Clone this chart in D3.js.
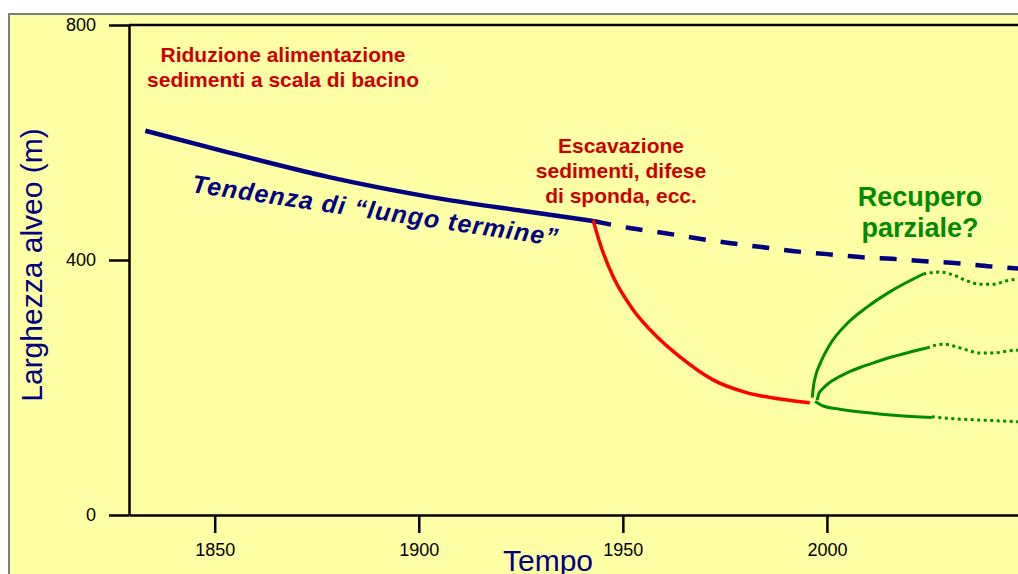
<!DOCTYPE html>
<html>
<head>
<meta charset="utf-8">
<script src="https://cdn.jsdelivr.net/npm/d3@7"></script>
<style>
  body { margin: 0; background: #fff; }
  svg { display: block; font-family: "Liberation Sans", Arial, sans-serif; }
</style>
</head>
<body>
<div id="chart"></div>
<script>
// Chart data
var yTicks = [0, 400, 800];
var xTicks = [1850, 1900, 1950, 2000];

// long-term trend, solid part
var trendYears = [1833, 1854, 1878, 1903, 1927, 1943];
var trendWidth = [620, 582, 541, 507, 482, 466];

// long-term trend, dashed projection
var projYears = [1943, 1952, 1960, 1968, 1976, 1984, 1992, 2000, 2008, 2016, 2024, 2032, 2040, 2048];
var projWidth = [466, 454, 446, 437, 429, 422, 415, 410, 405, 402, 398, 395, 390, 386];

// narrowing after excavation (red)
var redYears = [1942.7, 1944.4, 1947.6, 1952.5, 1958.3, 1964, 1972.1, 1980.3, 1988.5, 1995.8];
var redWidth = [468, 428, 374, 322, 280, 248, 212, 192, 182, 176];

// recovery scenarios (green): solid part then dotted part
var upYears = [1996.4, 1996.7, 1997.3, 1998.3, 2000.7, 2004.9, 2009.8, 2015.4, 2023.6];
var upWidth = [184, 202, 220, 237, 267, 300, 326, 350, 378];
var upDotYears = [2023.6, 2027.7, 2031, 2034.2, 2037.5, 2040.8, 2044, 2048];
var upDotWidth = [378, 381, 376.5, 367.5, 362, 362, 367.5, 371];

var midYears = [1997.6, 1998.0, 1998.8, 2000.7, 2002.8, 2004.9, 2008.8, 2012, 2015.4, 2020, 2024.5];
var midWidth = [180, 190, 197, 208, 216, 223, 233, 240, 247, 255, 262];
var midDotYears = [2024.5, 2028.5, 2031, 2034.2, 2037.5, 2040.8, 2044, 2048];
var midDotWidth = [262, 268, 265, 259, 254, 254, 257, 259];

var lowYears = [1997.1, 1999.1, 2003.2, 2008.9, 2017.1, 2025.7];
var lowWidth = [178, 171, 166, 161, 156, 153];
var lowDotYears = [2025.7, 2031, 2037.5, 2048];
var lowDotWidth = [154, 151, 149, 146];

// Set up SVG params
var svgWdt = 1018;
var svgHgt = 574;

var navy = "#000080";
var darkRed = "#cc0000";
var green = "#008c00";

var svg = d3.select("#chart").append("svg")
    .attr("width", svgWdt)
    .attr("height", svgHgt);

// yellow panel
svg.append("rect")
    .attr("x", 9).attr("y", 14)
    .attr("width", 1030).attr("height", 580)
    .attr("fill", "#ffffa6")
    .attr("stroke", "#808080")
    .attr("stroke-width", 2);

// Scales (the y axis of the original is not quite linear)
var xScale = d3.scaleLinear().domain([1829, 2050]).range([129, 1031]);
var yScale = d3.scaleLinear().domain([0, 400, 800]).range([515, 260, 25]);

// top frame line
svg.append("path")
    .attr("d", d3.line()([[xScale(1829), yScale(800)], [xScale(2050), yScale(800)]]))
    .attr("stroke", "#000")
    .attr("stroke-width", 2.5);

// Axes
var leftAx = d3.axisLeft(yScale).tickValues(yTicks)
    .tickSize(20).tickSizeOuter(0).tickPadding(13);
var botAx = d3.axisBottom(xScale).tickValues(xTicks)
    .tickSize(18).tickSizeOuter(0).tickPadding(10)
    .tickFormat(d3.format("d"));

var yAxis = svg.append("g")
    .attr("transform", `translate(${xScale(1829)}, 0)`)
    .call(leftAx);
var xAxis = svg.append("g")
    .attr("transform", `translate(0, ${yScale(0)})`)
    .call(botAx);

[yAxis, xAxis].forEach(ax => {
    ax.select(".domain").attr("stroke", "#000").attr("stroke-width", 2.5);
    ax.selectAll(".tick line").attr("stroke", "#000").attr("stroke-width", 2.5);
    ax.selectAll(".tick text")
        .attr("fill", "#000")
        .style("font-size", "18px")
        .style("font-family", "'Liberation Sans', Arial, sans-serif");
});

// Axis titles
svg.append("text")
    .attr("transform", "translate(42, 265) rotate(-90)")
    .attr("text-anchor", "middle")
    .attr("fill", navy)
    .style("font-size", "30px")
    .text("Larghezza alveo (m)");

svg.append("text")
    .attr("x", 548).attr("y", 571)
    .attr("text-anchor", "middle")
    .attr("fill", navy)
    .style("font-size", "30px")
    .text("Tempo");

// Lines
function zipPts(xs, ys) {
    return xs.map((d, i) => [d, ys[i]]);
}
var line = d3.line()
    .x(d => xScale(d[0]))
    .y(d => yScale(d[1]))
    .curve(d3.curveMonotoneX);

function drawLine(xs, ys, color, width, dash) {
    svg.append("path")
        .datum(zipPts(xs, ys))
        .attr("d", line)
        .attr("fill", "none")
        .attr("stroke", color)
        .attr("stroke-width", width)
        .attr("stroke-dasharray", dash || null);
}

drawLine(projYears, projWidth, navy, 4.5, "17,15");
drawLine(trendYears, trendWidth, navy, 4.5);
drawLine(redYears, redWidth, "#ff0000", 3.5);

drawLine(upYears, upWidth, green, 3);
drawLine(midYears, midWidth, green, 3);
drawLine(lowYears, lowWidth, green, 3);
drawLine(upDotYears, upDotWidth, green, 3, "3,3.5");
drawLine(midDotYears, midDotWidth, green, 3, "3,3.5");
drawLine(lowDotYears, lowDotWidth, green, 3, "3,3.5");

// Annotations
function multiText(lines, x, y0, step, color, size) {
    var t = svg.append("text")
        .attr("text-anchor", "middle")
        .attr("fill", color)
        .style("font-size", size + "px")
        .style("font-weight", "bold");
    lines.forEach((l, i) => {
        t.append("tspan").attr("x", x).attr("y", y0 + i * step).text(l);
    });
}

multiText(["Riduzione alimentazione", "sedimenti a scala di bacino"], 283, 62, 25, darkRed, 21);
multiText(["Escavazione", "sedimenti, difese", "di sponda, ecc."], 621, 153, 25, darkRed, 21);
multiText(["Recupero", "parziale?"], 920, 206, 31, green, 27);

svg.append("text")
    .attr("transform", "translate(191, 192) rotate(8.4)")
    .attr("fill", navy)
    .style("font-size", "25px")
    .style("font-weight", "bold")
    .style("font-style", "italic")
    .style("letter-spacing", "1.1px")
    .text("Tendenza di \u201clungo termine\u201d");
</script>
</body>
</html>
